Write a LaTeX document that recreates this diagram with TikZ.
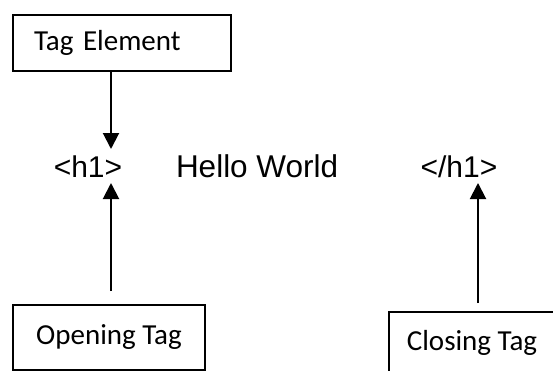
\documentclass[tikz,border=0pt]{standalone}
\usepackage{fontspec}
\setmainfont{Carlito}
\newfontfamily\arialfont{Liberation Sans}
\usetikzlibrary{arrows.meta,positioning}
\newcommand{\boxfont}[0]{\fontsize{29}{34}\selectfont}
\newcommand{\tagfont}[0]{\arialfont\fontsize{30}{36}\selectfont}

\begin{document}
\begin{tikzpicture}[x=1pt,y=-1pt,line width=2pt]
\tikzstyle{tagbox}=[draw,rectangle,inner sep=0pt,font=\boxfont]
\tikzstyle{tagtext}=[inner sep=0pt,anchor=base,font=\tagfont]
\tikzstyle{arr}=[-{Triangle[length=16pt,width=16pt]}]

\clip (0,0) rectangle (553,370);

% boxes
\node[tagbox,anchor=north west,minimum width=218pt,minimum height=56pt,
      inner xsep=21pt,text width=176pt,align=left] (tagel) at (12,14) {Tag Element};
\node[tagbox,anchor=north west,minimum width=192pt,minimum height=65pt] (opening) at (12,304) {Opening Tag};
\node[tagbox,anchor=north west,minimum width=166pt,minimum height=61pt] (closing) at (388,311) {Closing Tag};

% the html line
\node[tagtext] (h1open) at (88,177) {<h1>};
\node[tagtext,anchor=base west,font=\arialfont\fontsize{31.5}{38}\selectfont] (hello) at (175,177) {Hello World};
\node[tagtext] (h1close) at (459,177) {</h1>};

\coordinate (optop) at (111,149);
\coordinate (opbot) at (111,183);
\coordinate (clbot) at (478,183);

\draw[arr] (tagel.south -| optop) -- (optop);
\draw[arr] ([yshift=13pt]opening.north -| opbot) -- (opbot);
\draw[arr] ([yshift=8pt]closing.north -| clbot) -- (clbot);
\end{tikzpicture}
\end{document}
